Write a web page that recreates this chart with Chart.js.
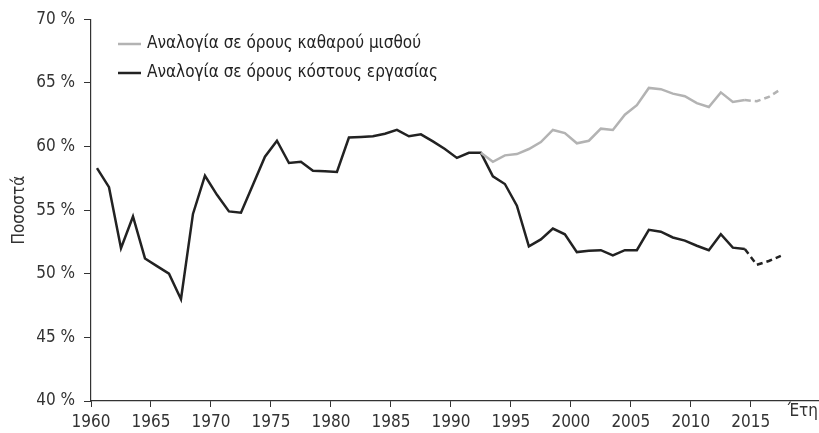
<!DOCTYPE html>
<html>
<head>
<meta charset="utf-8">
<script src="https://cdn.jsdelivr.net/npm/chart.js@4"></script>
<style>
  html, body { margin: 0; padding: 0; background: #fff; }
  #wrap { width: 819px; height: 433px; }
</style>
</head>
<body>
<div id="wrap"><canvas id="line"></canvas></div>
<script>
let years = [
  1960, 1961, 1962, 1963, 1964, 1965, 1966, 1967, 1968, 1969,
  1970, 1971, 1972, 1973, 1974, 1975, 1976, 1977, 1978, 1979,
  1980, 1981, 1982, 1983, 1984, 1985, 1986, 1987, 1988, 1989,
  1990, 1991, 1992, 1993, 1994, 1995, 1996, 1997, 1998, 1999,
  2000, 2001, 2002, 2003, 2004, 2005, 2006, 2007, 2008, 2009,
  2010, 2011, 2012, 2013, 2014, 2015, 2016, 2017,
];
// net wage replacement ratio (only from 1992)
let netWage = [
  null, null, null, null, null, null, null, null, null, null,
  null, null, null, null, null, null, null, null, null, null,
  null, null, null, null, null, null, null, null, null, null,
  null, null, 59.5, 58.8, 59.3, 59.4, 59.8, 60.35, 61.3, 61.05,
  60.25, 60.45, 61.4, 61.3, 62.5, 63.25, 64.6, 64.5, 64.15, 63.95,
  63.4, 63.1, 64.25, 63.5, 63.65, 63.55, 63.9, 64.5,
];
// labour cost ratio
let labourCost = [
  58.3, 56.8, 52.0, 54.5, 51.2, 50.6, 50.0, 48.0, 54.7, 57.7,
  56.2, 54.9, 54.8, 57.0, 59.2, 60.45, 58.7, 58.8, 58.1, 58.05,
  58.0, 60.7, 60.75, 60.8, 61.0, 61.3, 60.8, 60.95, 60.4, 59.8,
  59.1, 59.5, 59.5, 57.65, 57.05, 55.35, 52.15, 52.7, 53.55, 53.1,
  51.7, 51.8, 51.85, 51.45, 51.85, 51.85, 53.45, 53.3, 52.85, 52.6,
  52.2, 51.85, 53.1, 52.05, 51.95, 50.7, 51.0, 51.4,
];
let seriesNames = [
  "Αναλογία σε όρους καθαρού μισθού",
  "Αναλογία σε όρους κόστους εργασίας",
];
let projectedFrom = 2014;
let yTicks = [40, 45, 50, 55, 60, 65, 70];
let xTicks = [1960, 1965, 1970, 1975, 1980, 1985, 1990, 1995, 2000, 2005, 2010, 2015];

const FONT = "'Liberation Sans Narrow', 'DejaVu Sans Condensed', sans-serif";
const TXT = "#333";

// yearly values are plotted at mid-year
function points(vals) {
  return years.map((y, i) => ({ x: y + 0.5, y: vals[i] }));
}
const dashAfter = (ctx) =>
  years[ctx.p0DataIndex] >= projectedFrom ? [6, 4] : undefined;

const extras = {
  id: "extras",
  afterDraw(chart) {
    const c = chart.ctx;
    c.save();
    c.font = "17px " + FONT;
    c.textBaseline = "middle";
    // legend
    chart.data.datasets.forEach((ds, i) => {
      const y = 44 + i * 29;
      c.strokeStyle = ds.borderColor;
      c.lineWidth = 2.5;
      c.beginPath();
      c.moveTo(118, y);
      c.lineTo(141, y);
      c.stroke();
      c.fillStyle = "#222";
      c.textAlign = "left";
      c.fillText(ds.label, 147, y);
    });
    // axis word on the right
    c.fillStyle = TXT;
    c.textAlign = "right";
    c.fillText("Έτη", 818, 412);
    c.restore();
  },
};

let ctx = document.getElementById("line").getContext("2d");
let line = new Chart(ctx, {
  type: "line",
  data: {
    datasets: [
      {
        label: seriesNames[0],
        data: points(netWage),
        borderColor: "#b3b3b3",
        borderWidth: 2.5,
        pointRadius: 0,
        tension: 0,
        segment: { borderDash: dashAfter },
      },
      {
        label: seriesNames[1],
        data: points(labourCost),
        borderColor: "#222222",
        borderWidth: 2.5,
        pointRadius: 0,
        tension: 0,
        segment: { borderDash: dashAfter },
      },
    ],
  },
  options: {
    responsive: true,
    maintainAspectRatio: false,
    animation: false,
    layout: { padding: { top: 17, right: 1, left: 0, bottom: 0 } },
    plugins: { legend: { display: false }, tooltip: { enabled: false } },
    scales: {
      x: {
        type: "linear",
        min: 1960,
        max: 2020.6,
        afterBuildTicks: (scale) => {
          scale.ticks = xTicks.map((v) => ({ value: v }));
        },
        afterFit: (scale) => { scale.height = 32; },
        grid: { drawOnChartArea: false, tickLength: 6, color: TXT, lineWidth: 1 },
        border: { color: TXT, width: 1.2 },
        ticks: {
          color: TXT,
          padding: 5,
          maxRotation: 0,
          font: { family: FONT, size: 17 },
          callback: (v) => String(v),
        },
      },
      y: {
        min: 40,
        max: 70,
        afterBuildTicks: (scale) => {
          scale.ticks = yTicks.map((v) => ({ value: v }));
        },
        afterFit: (scale) => { scale.width = 91; },
        grid: { drawOnChartArea: false, tickLength: 7, color: TXT, lineWidth: 1 },
        border: { color: TXT, width: 1.2 },
        title: {
          display: true,
          text: "Ποσοστά",
          color: TXT,
          font: { family: FONT, size: 17 },
          padding: { top: 9, bottom: 0 },
        },
        ticks: {
          color: TXT,
          padding: 9,
          font: { family: FONT, size: 17 },
          callback: (v) => v + " %",
        },
      },
    },
  },
  plugins: [extras],
});
</script>
</body>
</html>
